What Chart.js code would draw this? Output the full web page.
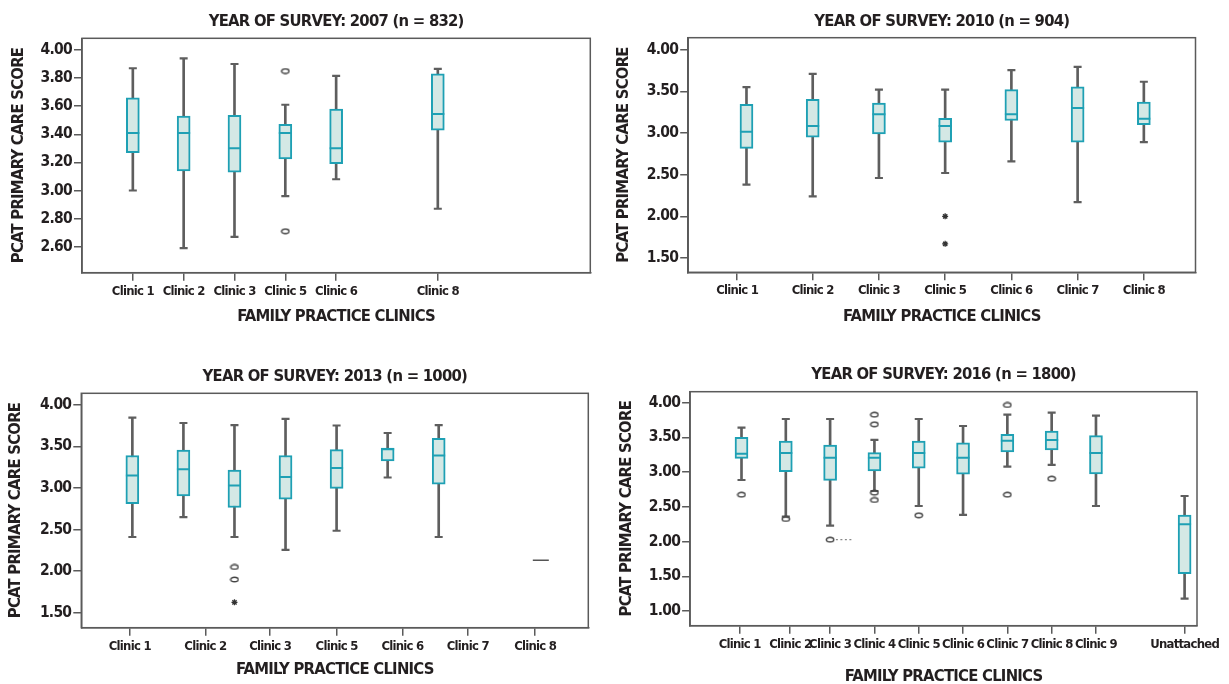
<!DOCTYPE html>
<html>
<head>
<meta charset="utf-8">
<script src="https://cdn.jsdelivr.net/npm/chart.js@4.4.0/dist/chart.umd.min.js"></script>
<style>
html, body { margin: 0; padding: 0; background: #fff; overflow: hidden; width: 1229px; height: 684px; }
canvas { position: absolute; }
</style>
</head>
<body>
<canvas id="c2007" width="610" height="340" style="left:0;top:0"></canvas>
<canvas id="c2010" width="619" height="340" style="left:610px;top:0"></canvas>
<canvas id="c2013" width="610" height="340" style="left:0;top:355px"></canvas>
<canvas id="c2016" width="619" height="340" style="left:610px;top:355px"></canvas>
<script>
// ---- 2007 (n = 832) ----
let clinics2007 = ['Clinic 1', 'Clinic 2', 'Clinic 3', 'Clinic 5', 'Clinic 6', 'Clinic 8'];
let slots2007 = [1, 2, 3, 4, 5, 7];
let ticksAt2007 = [1, 2, 3, 4, 5, 7];
let min2007 = [3.00, 2.59, 2.67, 2.96, 3.08, 2.87];
let q1_2007 = [3.27, 3.14, 3.13, 3.225, 3.19, 3.43];
let med2007 = [3.41, 3.41, 3.30, 3.41, 3.30, 3.545];
let q3_2007 = [3.66, 3.53, 3.535, 3.47, 3.58, 3.83];
let max2007 = [3.87, 3.94, 3.90, 3.61, 3.815, 3.865];
let circles2007 = [[], [], [], [3.85, 2.71], [], []];
let stars2007 = [[], [], [], [], [], []];
let yTicks2007 = [2.6, 2.8, 3.0, 3.2, 3.4, 3.6, 3.8, 4.0];

// ---- 2010 (n = 904) ----
let clinics2010 = ['Clinic 1', 'Clinic 2', 'Clinic 3', 'Clinic 5', 'Clinic 6', 'Clinic 7', 'Clinic 8'];
let slots2010 = [1, 2, 3, 4, 5, 6, 7];
let ticksAt2010 = [0.86, 2, 3, 4, 5, 6, 7];
let min2010 = [2.38, 2.24, 2.46, 2.52, 2.66, 2.17, 2.89];
let q1_2010 = [2.815, 2.95, 2.99, 2.89, 3.15, 2.89, 3.10];
let med2010 = [3.015, 3.085, 3.225, 3.085, 3.225, 3.30, 3.17];
let q3_2010 = [3.345, 3.405, 3.36, 3.175, 3.52, 3.555, 3.37];
let max2010 = [3.55, 3.71, 3.52, 3.52, 3.755, 3.795, 3.615];
let circles2010 = [[], [], [], [], [], [], []];
let stars2010 = [[], [], [], [2.00, 1.67], [], [], []];
let yTicks2010 = [1.5, 2.0, 2.5, 3.0, 3.5, 4.0];

// ---- 2013 (n = 1000) ----
let clinics2013 = ['Clinic 1', 'Clinic 2', 'Clinic 3', 'Clinic 5', 'Clinic 6', 'Clinic 7', 'Clinic 8'];
let slots2013 = [1, 2, 3, 4, 5, 6, 7, 9];
let ticksAt2013 = [0.95, 2.43, 3.70, 5.0, 6.29, 7.57, 8.89];
let min2013 = [2.41, 2.65, 2.41, 2.255, 2.485, 3.125, 2.41, null];
let q1_2013 = [2.81, 2.905, 2.765, 2.865, 2.995, 3.325, 3.045, null];
let med2013 = [3.15, 3.225, 3.03, 3.13, 3.24, 3.465, 3.39, 2.13];
let q3_2013 = [3.39, 3.455, 3.215, 3.39, 3.46, 3.48, 3.595, null];
let max2013 = [3.845, 3.78, 3.755, 3.83, 3.75, 3.66, 3.755, null];
let circles2013 = [[], [], [2.05, 1.90], [], [], [], [], []];
let stars2013 = [[], [], [1.625], [], [], [], [], []];
let yTicks2013 = [1.5, 2.0, 2.5, 3.0, 3.5, 4.0];

// ---- 2016 (n = 1800) ----
let clinics2016 = ['Clinic 1', 'Clinic 2', 'Clinic 3', 'Clinic 4', 'Clinic 5', 'Clinic 6', 'Clinic 7', 'Clinic 8', 'Clinic 9', 'Unattached'];
let slots2016 = [1, 2, 3, 4, 5, 6, 7, 8, 9, 11];
let ticksAt2016 = [0.96, 2.1, 3, 4, 5, 6, 7, 8, 9, 11];
let min2016 = [2.886, 2.358, 2.229, 2.728, 2.512, 2.383, 3.078, 3.103, 2.512, 1.178];
let q1_2016 = [3.198, 3.006, 2.882, 3.016, 3.055, 2.969, 3.29, 3.319, 2.973, 1.538];
let med2016 = [3.266, 3.276, 3.208, 3.208, 3.276, 3.208, 3.453, 3.463, 3.276, 2.248];
let q3_2016 = [3.501, 3.448, 3.391, 3.28, 3.448, 3.42, 3.545, 3.592, 3.525, 2.382];
let max2016 = [3.64, 3.765, 3.765, 3.463, 3.765, 3.664, 3.827, 3.856, 3.813, 2.656];
let circles2016 = [[2.675], [2.325], [2.027], [3.827, 3.689, 2.704, 2.599], [2.378], [], [3.967, 2.675], [2.906], [], []];
let stars2016 = [[], [], [], [], [], [], [], [], [], []];
let yTicks2016 = [1.0, 1.5, 2.0, 2.5, 3.0, 3.5, 4.0];

const ink = '#231f20';
const frame = '#5a5a5a';
const teal = '#1ea0b4';
const boxFill = '#d4e8e5';
const whiskerColor = '#5e5e5e';
const fam = "'DejaVu Sans Condensed', 'DejaVu Sans', sans-serif";

// small open ellipse used for the outliers
const ring = document.createElement('canvas');
ring.width = 10;
ring.height = 7;
let g = ring.getContext('2d');
g.strokeStyle = '#444';
g.lineWidth = 1.4;
g.beginPath();
g.ellipse(5, 3.5, 3.7, 2.3, 0, 0, Math.PI * 2);
g.stroke();

// tighter lettering, the printed figure uses a condensed face
const tightText = {
    id: 'tightText',
    beforeUpdate(chart) { chart.ctx.letterSpacing = '-0.75px'; },
    beforeDraw(chart) { chart.ctx.letterSpacing = '-0.75px'; }
};

const framePlugin = {
    id: 'frame',
    beforeDatasetsDraw(chart) {
        let a = chart.chartArea;
        let ctx = chart.ctx;
        ctx.save();
        ctx.strokeStyle = frame;
        ctx.lineWidth = 1.5;
        ctx.strokeRect(a.left, a.top, a.right - a.left, a.bottom - a.top);
        ctx.restore();
    }
};

function boxChart(id, p) {
    let pts = (arr) => p.slots.flatMap((s, i) => arr[i].map(v => ({x: s, y: v})));
    let caps = [];
    p.slots.forEach((s, i) => {
        if (p.min[i] != null) {
            caps.push({x: s, y: p.min[i]});
            caps.push({x: s, y: p.max[i]});
        }
    });
    let single = p.slots.map((s, i) => p.q1[i] == null);

    let datasets = [
        {
            type: 'line', label: 'median', showLine: false, order: 0,
            data: p.slots.map((s, i) => ({x: s, y: p.med[i]})),
            pointStyle: 'line',
            pointRadius: single.map(b => b ? 8 : 6.5),
            pointBorderWidth: single.map(b => b ? 1.5 : 2),
            pointBorderColor: single.map(b => b ? '#555' : teal)
        },
        {
            type: 'line', label: 'outliers', showLine: false, order: 0,
            data: pts(p.circles), pointStyle: ring, pointRadius: 3
        },
        {
            type: 'line', label: 'extremes', showLine: false, order: 0,
            data: pts(p.stars), pointStyle: 'star', pointRadius: 3,
            pointBorderColor: '#333', pointBorderWidth: 1.3
        },
        {
            type: 'line', label: 'caps', showLine: false, order: 1,
            data: caps, pointStyle: 'line', pointRadius: 4,
            pointBorderColor: whiskerColor, pointBorderWidth: 2.2
        },
        {
            type: 'bar', label: 'box', order: 2, grouped: false,
            data: p.slots.map((s, i) => ({x: s, y: p.q1[i] == null ? null : [p.q1[i], p.q3[i]]})),
            barThickness: 13, backgroundColor: boxFill, borderColor: teal,
            borderWidth: 2, borderSkipped: false
        },
        {
            type: 'bar', label: 'whisker', order: 3, grouped: false,
            data: p.slots.map((s, i) => ({x: s, y: p.min[i] == null ? null : [p.min[i], p.max[i]]})),
            barThickness: 2, backgroundColor: whiskerColor, borderWidth: 0
        }
    ];
    if (p.leader) {
        // dotted leader drawn out of the labelled outlier
        let lv = p.circles[p.leader][0];
        let ls = p.slots[p.leader];
        datasets.push({
            type: 'line', label: 'leader', order: 1, pointRadius: 0,
            data: [{x: ls + 0.13, y: lv}, {x: ls + 0.53, y: lv}],
            borderColor: '#888', borderWidth: 1.3, borderDash: [2, 2.5]
        });
    }

    new Chart(document.getElementById(id), {
        type: 'bar',
        data: { datasets: datasets },
        options: {
            responsive: false,
            animation: false,
            events: [],
            layout: { padding: { left: 0, right: p.padR, top: 0, bottom: 0 } },
            plugins: {
                legend: { display: false },
                tooltip: { enabled: false },
                title: {
                    display: true, text: p.title, fullSize: false, color: ink,
                    font: { family: fam, size: 16.5, weight: 'bold', lineHeight: 1.2 },
                    padding: { top: p.titleTop, bottom: p.titleBottom }
                }
            },
            scales: {
                x: {
                    type: 'linear', min: p.xMin, max: p.xMax, offset: false,
                    afterBuildTicks: s => { s.ticks = p.ticksAt.map(v => ({value: v})); },
                    afterFit: s => { s.height = p.xAxisH; },
                    grid: { drawOnChartArea: false, offset: false, tickLength: 8, color: frame, lineWidth: 1.5 },
                    border: { display: true, color: frame, width: 1.5 },
                    ticks: {
                        color: ink, padding: 3, maxRotation: 0, autoSkip: false,
                        font: { family: fam, size: 13, weight: 'bold' },
                        callback: (v, i) => p.labels[i]
                    },
                    title: {
                        display: true, text: 'FAMILY PRACTICE CLINICS', color: ink,
                        font: { family: fam, size: 16.5, weight: 'bold', lineHeight: 1.2 },
                        padding: { top: 0, bottom: p.xTitleBottom }
                    }
                },
                y: {
                    type: 'linear', min: p.yMin, max: p.yMax,
                    afterBuildTicks: s => { s.ticks = p.yTicks.map(v => ({value: v})); },
                    afterFit: s => { s.width = p.yAxisW; },
                    grid: { drawOnChartArea: false, tickLength: 8, color: frame, lineWidth: 1.5 },
                    border: { display: true, color: frame, width: 1.5 },
                    ticks: {
                        color: ink, padding: 2,
                        font: { family: fam, size: 15.5, weight: 'bold' },
                        callback: v => v.toFixed(2)
                    },
                    title: {
                        display: true, text: 'PCAT PRIMARY CARE SCORE', color: ink,
                        font: { family: fam, size: 16.5, weight: 'bold', lineHeight: 1.2 },
                        padding: { top: p.yTitleLeft, bottom: 0 }
                    }
                }
            }
        },
        plugins: [tightText, framePlugin]
    });
}

boxChart('c2007', {
    title: 'YEAR OF SURVEY: 2007 (n = 832)',
    labels: clinics2007, slots: slots2007, ticksAt: ticksAt2007,
    min: min2007, q1: q1_2007, med: med2007, q3: q3_2007, max: max2007,
    circles: circles2007, stars: stars2007, yTicks: yTicks2007,
    xMin: 0, xMax: 10, yMin: 2.415, yMax: 4.083,
    yAxisW: 82, padR: 19.7, titleTop: 11.8, titleBottom: 6.7,
    xAxisH: 67.3, xTitleBottom: 13.1, yTitleLeft: 9.1
});

boxChart('c2010', {
    title: 'YEAR OF SURVEY: 2010 (n = 904)',
    labels: clinics2010, slots: slots2010, ticksAt: ticksAt2010,
    min: min2010, q1: q1_2010, med: med2010, q3: q3_2010, max: max2010,
    circles: circles2010, stars: stars2010, yTicks: yTicks2010,
    xMin: 0.12, xMax: 7.78, yMin: 1.328, yMax: 4.144,
    yAxisW: 78.2, padR: 33.5, titleTop: 11.8, titleBottom: 6.1,
    xAxisH: 67.7, xTitleBottom: 13.1, yTitleLeft: 4.1
});

boxChart('c2013', {
    title: 'YEAR OF SURVEY: 2013 (n = 1000)',
    labels: clinics2013, slots: slots2013, ticksAt: ticksAt2013,
    min: min2013, q1: q1_2013, med: med2013, q3: q3_2013, max: max2013,
    circles: circles2013, stars: stars2013, yTicks: yTicks2013,
    xMin: 0, xMax: 9.93, yMin: 1.32, yMax: 4.137,
    yAxisW: 81.3, padR: 21.7, titleTop: 11.8, titleBottom: 6.7,
    xAxisH: 67.3, xTitleBottom: 15.1, yTitleLeft: 6.1
});

boxChart('c2016', {
    title: 'YEAR OF SURVEY: 2016 (n = 1800)',
    labels: clinics2016, slots: slots2016, ticksAt: ticksAt2016,
    min: min2016, q1: q1_2016, med: med2016, q3: q3_2016, max: max2016,
    circles: circles2016, stars: stars2016, yTicks: yTicks2016, leader: 2,
    xMin: -0.16, xMax: 11.28, yMin: 0.788, yMax: 4.158,
    yAxisW: 80.1, padR: 32, titleTop: 10.1, titleBottom: 6.8,
    xAxisH: 69.3, xTitleBottom: 8.4, yTitleLeft: 7.1
});
</script>
</body>
</html>
